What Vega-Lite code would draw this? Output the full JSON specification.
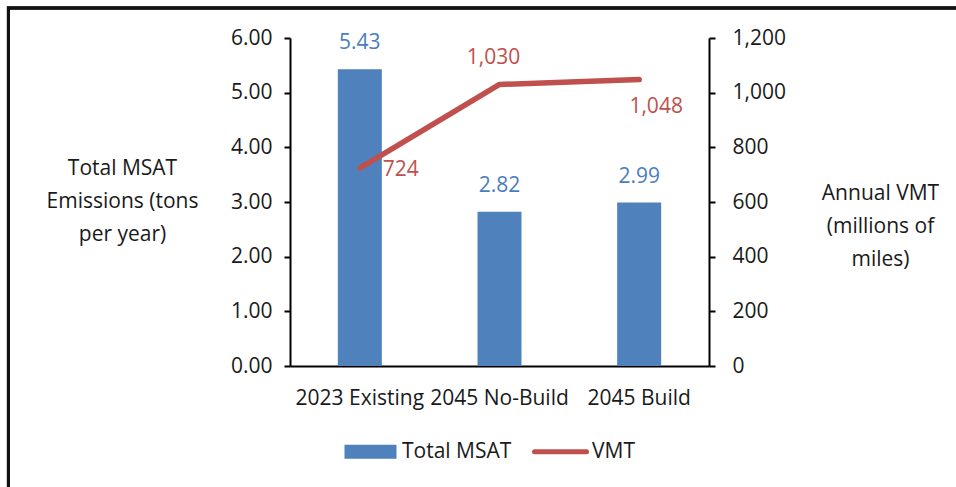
{
  "$schema": "https://vega.github.io/schema/vega-lite/v6.json",
  "width": 419,
  "height": 328,
  "autosize": {"type": "none"},
  "padding": {"left": 290, "top": 38, "right": 247, "bottom": 121},
  "background": "white",
  "config": {
    "view": {"stroke": null},
    "font": "Open Sans",
    "text": {"font": "Open Sans"},
    "axis": {
      "grid": false,
      "domainColor": "black",
      "domainWidth": 2,
      "tickColor": "black",
      "tickWidth": 2,
      "tickSize": 6,
      "labelFont": "Open Sans",
      "labelFontSize": 21,
      "labelColor": "#1a1a1a",
      "titleFont": "Open Sans",
      "titleFontSize": 21,
      "titleFontWeight": "normal",
      "titleColor": "#1a1a1a"
    }
  },
  "data": {
    "values": [
      {"scenario": "2023 Existing", "msat": 5.43, "vmt": 724},
      {"scenario": "2045 No-Build", "msat": 2.82, "vmt": 1030},
      {"scenario": "2045 Build", "msat": 2.99, "vmt": 1048}
    ]
  },
  "layer": [
    {
      "mark": {"type": "rect", "fill": "transparent", "stroke": "#111111", "strokeWidth": 3},
      "encoding": {
        "x": {"datum": -0.672, "type": "quantitative", "scale": {"domain": [0, 1], "nice": false, "zero": false}, "axis": null},
        "x2": {"datum": 1.8},
        "y": {"datum": 1.0915, "type": "quantitative", "scale": {"domain": [0, 1], "nice": false, "zero": false}, "axis": null},
        "y2": {"datum": -0.6}
      }
    },
    {
      "encoding": {
        "x": {
          "field": "scenario",
          "type": "nominal",
          "sort": null,
          "scale": {"paddingInner": 0.685, "paddingOuter": 0.3425},
          "axis": {"title": null, "ticks": false, "labelAngle": 0, "labelPadding": 21}
        }
      },
      "layer": [
        {
          "encoding": {
            "y": {
              "field": "msat",
              "type": "quantitative",
              "scale": {"domain": [0, 6], "nice": false},
              "axis": {
                "orient": "left",
                "values": [0, 1, 2, 3, 4, 5, 6],
                "format": ".2f",
                "labelPadding": 12,
                "title": ["Total MSAT", "Emissions (tons", "per year)"],
                "titleAngle": 0,
                "titleAlign": "center",
                "titleBaseline": "middle",
                "titleX": -168,
                "titleY": 130,
                "titleLineHeight": 33
              }
            }
          },
          "layer": [
            {
              "mark": {"type": "bar", "color": "#4F81BD"},
              "encoding": {
                "color": {
                  "datum": "Total MSAT",
                  "scale": {"domain": ["Total MSAT", "VMT"], "range": ["#4F81BD", "#C0504D"]},
                  "legend": {
                    "title": null,
                    "orient": "none",
                    "legendX": 70,
                    "legendY": 403,
                    "direction": "horizontal",
                    "labelFont": "Open Sans",
                    "labelFontSize": 21,
                    "labelColor": "#1a1a1a",
                    "symbolSize": 2704,
                    "labelOffset": 21,
                    "columnPadding": 12,
                    "encode": {
                      "symbols": {
                        "update": {
                          "shape": {"signal": "datum.value === 'VMT' ? 'M-1,0H1' : 'M-1,-0.27H1V0.27H-1Z'"},
                          "fill": {"signal": "datum.value === 'VMT' ? 'transparent' : '#4F81BD'"},
                          "stroke": {"signal": "datum.value === 'VMT' ? '#C0504D' : 'transparent'"},
                          "strokeWidth": {"signal": "datum.value === 'VMT' ? 5 : 0"},
                          "strokeCap": {"value": "round"},
                          "opacity": {"value": 1}
                        }
                      }
                    }
                  }
                }
              }
            },
            {
              "mark": {"type": "text", "color": "#4A7EBB", "fontSize": 21, "dy": -26, "baseline": "middle", "align": "center"},
              "encoding": {"text": {"field": "msat", "type": "quantitative", "format": ".2f"}}
            }
          ]
        },
        {
          "encoding": {
            "y": {
              "field": "vmt",
              "type": "quantitative",
              "scale": {"domain": [0, 1200], "nice": false},
              "axis": {
                "orient": "right",
                "values": [0, 200, 400, 600, 800, 1000, 1200],
                "format": ",.0f",
                "labelPadding": 17,
                "title": ["Annual VMT", "(millions of", "miles)"],
                "titleAngle": 0,
                "titleAlign": "center",
                "titleBaseline": "middle",
                "titleX": 171,
                "titleY": 155,
                "titleLineHeight": 33
              }
            }
          },
          "layer": [
            {
              "mark": {"type": "line", "color": "#C0504D", "strokeWidth": 5.5, "strokeCap": "round", "strokeJoin": "round"},
              "encoding": {"color": {"datum": "VMT"}}
            },
            {
              "transform": [{"filter": "datum.scenario === '2023 Existing'"}],
              "mark": {"type": "text", "color": "#C0504D", "fontSize": 21, "dx": 23, "dy": 2, "baseline": "middle", "align": "left"},
              "encoding": {"text": {"field": "vmt", "type": "quantitative", "format": ",.0f"}}
            },
            {
              "transform": [{"filter": "datum.scenario === '2045 No-Build'"}],
              "mark": {"type": "text", "color": "#C0504D", "fontSize": 21, "dx": -6, "dy": -26, "baseline": "middle", "align": "center"},
              "encoding": {"text": {"field": "vmt", "type": "quantitative", "format": ",.0f"}}
            },
            {
              "transform": [{"filter": "datum.scenario === '2045 Build'"}],
              "mark": {"type": "text", "color": "#C0504D", "fontSize": 21, "dx": 17, "dy": 27, "baseline": "middle", "align": "center"},
              "encoding": {"text": {"field": "vmt", "type": "quantitative", "format": ",.0f"}}
            }
          ]
        }
      ],
      "resolve": {"scale": {"y": "independent"}}
    }
  ],
  "resolve": {"scale": {"x": "independent", "y": "independent"}}
}
